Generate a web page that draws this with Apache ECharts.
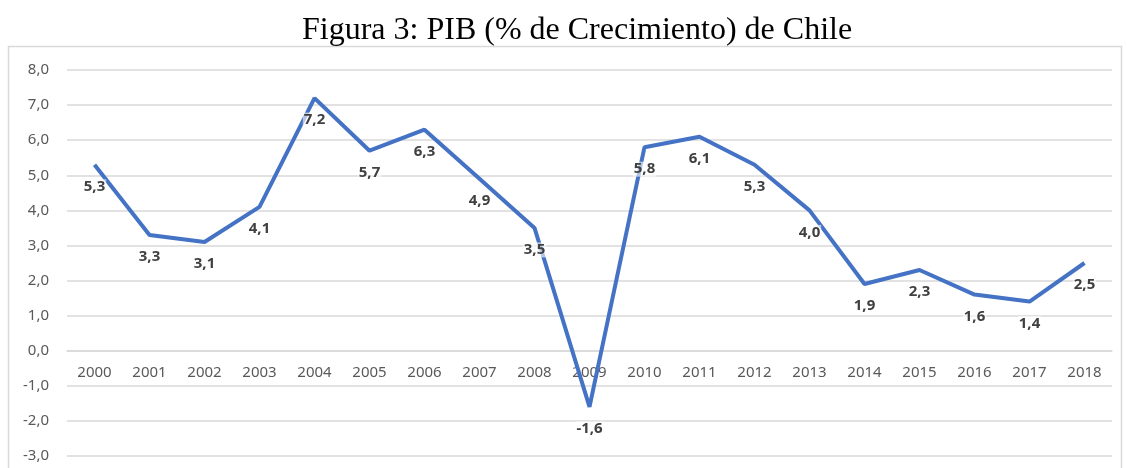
<!DOCTYPE html>
<html>
<head>
<meta charset="utf-8">
<script src="https://cdn.jsdelivr.net/npm/echarts@6/dist/echarts.min.js"></script>
<style>
  html, body { margin: 0; padding: 0; background: #fff; }
  #main { width: 1127px; height: 468px; }
</style>
</head>
<body>
<div id="main"></div>
<script>
// años y crecimiento del PIB (%)
var years = ['2000', '2001', '2002', '2003', '2004', '2005', '2006', '2007', '2008', '2009',
  '2010', '2011', '2012', '2013', '2014', '2015', '2016', '2017', '2018'];
var pib = [5.3, 3.3, 3.1, 4.1, 7.2, 5.7, 6.3, 4.9, 3.5, -1.6, 5.8, 6.1, 5.3, 4.0, 1.9, 2.3, 1.6, 1.4, 2.5];

var yMin = -3, yMax = 8;
var gridTop = 70, gridBottom = 12, H = 468;

function coma(v) {
  return Number(v).toFixed(1).replace('.', ',');
}

// el eje x cruza en 0: se desplaza hacia arriba desde el borde inferior
var plotH = H - gridTop - gridBottom;
var zeroOffset = -plotH * (0 - yMin) / (yMax - yMin);

var myChart = echarts.init(document.getElementById('main'));
var o = {
  backgroundColor: '#ffffff',
  animation: false,
  title: {
    text: 'Figura 3: PIB (% de Crecimiento) de Chile',
    left: 297,
    top: 10,
    textStyle: { fontFamily: 'Liberation Serif', fontSize: 32, fontWeight: 'normal', color: '#000' }
  },
  graphic: [{
    type: 'rect',
    shape: { x: 8.5, y: 46.5, width: 1113, height: 430 },
    style: { fill: 'none', stroke: '#d9d9d9', lineWidth: 1.5 },
    silent: true
  }],
  grid: { left: 67, right: 15, top: gridTop, bottom: gridBottom, outerBoundsMode: 'none', containLabel: false },
  xAxis: {
    type: 'category',
    data: years,
    boundaryGap: true,
    offset: zeroOffset,
    axisLine: { show: true, onZero: false, lineStyle: { color: '#d9d9d9', width: 1.5 } },
    axisTick: { show: false },
    axisLabel: { color: '#595959', fontFamily: 'Noto Sans', fontSize: 15, margin: 15 }
  },
  yAxis: {
    type: 'value',
    min: yMin,
    max: yMax,
    interval: 1,
    axisLine: { show: false },
    axisTick: { show: false },
    splitLine: { lineStyle: { color: '#d9d9d9', width: 1.5 } },
    axisLabel: {
      color: '#595959', fontFamily: 'Noto Sans', fontSize: 15, margin: 18,
      formatter: coma
    }
  },
  series: [{
    type: 'line',
    data: pib,
    symbol: 'circle',
    symbolSize: 1,
    showSymbol: true,
    itemStyle: { color: 'rgba(68,114,196,0)' },
    lineStyle: { color: '#4472C4', width: 4 },
    z: 2,
    labelLayout: { hideOverlap: false },
    label: {
      show: true,
      position: 'bottom',
      distance: 14,
      color: '#404040',
      fontFamily: 'Noto Sans',
      fontWeight: 'bold',
      fontSize: 15,
      backgroundColor: 'rgba(255,255,255,0.6)',
      padding: [0, 1],
      formatter: function (p) { return coma(p.value); }
    }
  }]
};
myChart.setOption(o);
</script>
</body>
</html>
